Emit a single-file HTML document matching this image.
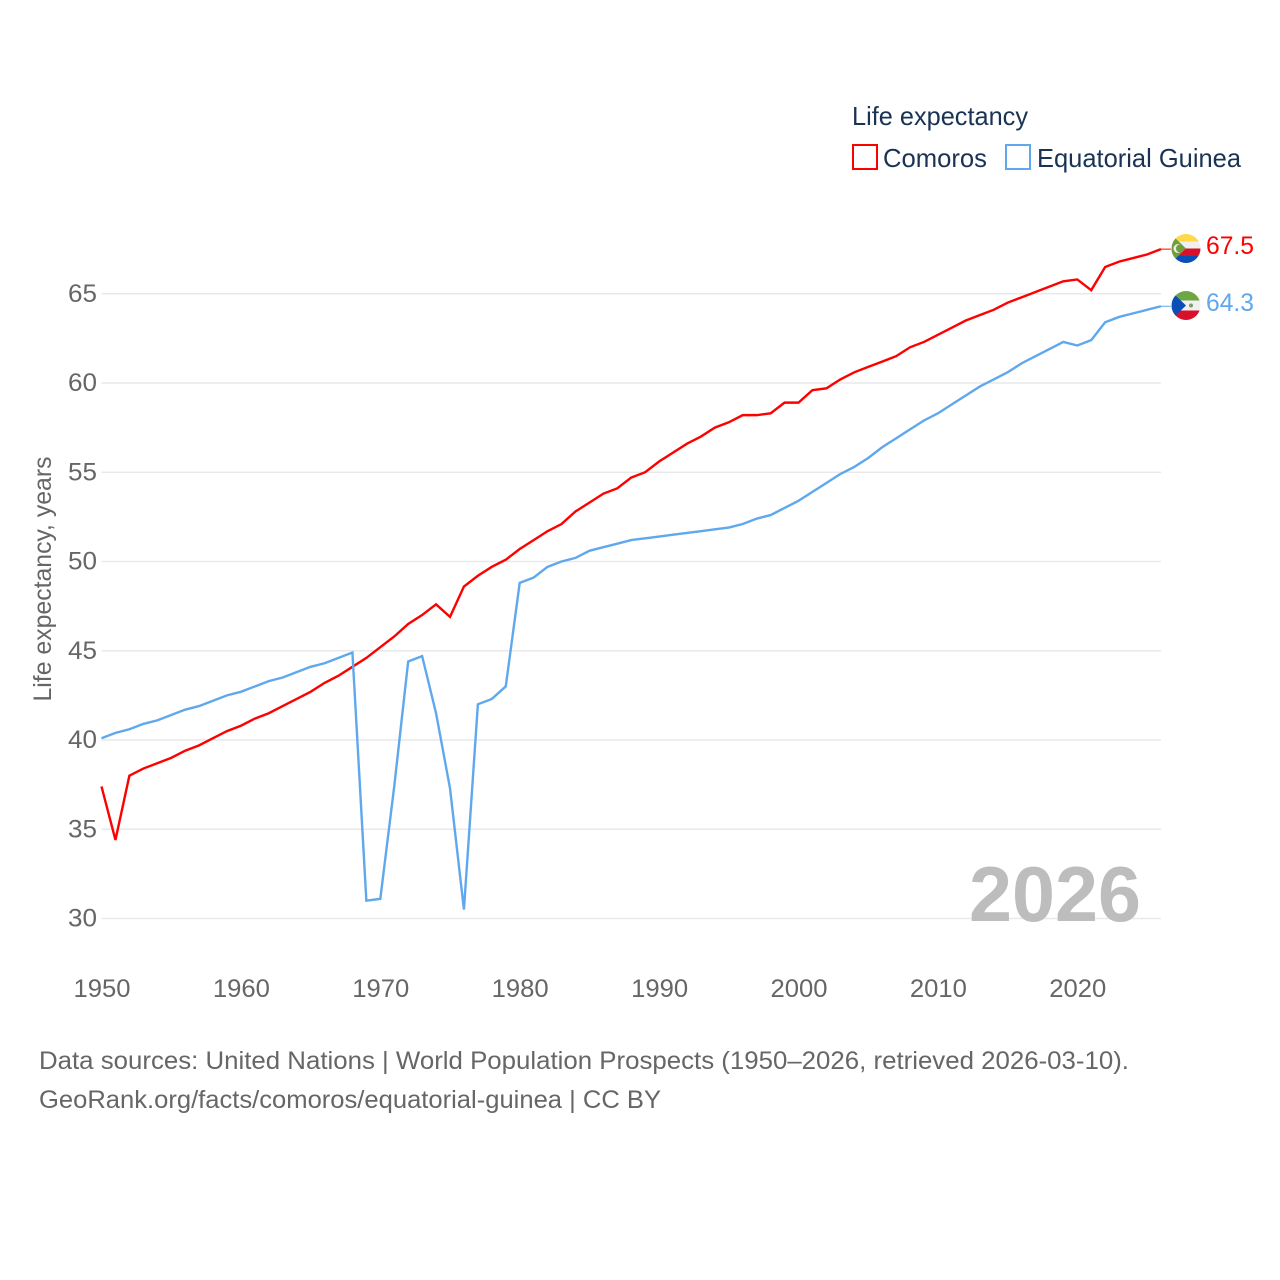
<!DOCTYPE html>
<html lang="en">
<head>
<meta charset="utf-8">
<title>Life expectancy: Comoros and Equatorial Guinea</title>
<style>
html,body{margin:0;padding:0;background:#fff;width:1280px;height:1280px;overflow:hidden}
svg{display:block}
text{font-family:"Liberation Sans",sans-serif}
</style>
</head>
<body>
<svg id="chart" width="1280" height="1280" viewBox="0 0 1280 1280" xmlns="http://www.w3.org/2000/svg">
  <defs>
    <clipPath id="flag-clip-km"><circle cx="1186" cy="248.500" r="14.500"/></clipPath>
    <clipPath id="flag-clip-gq"><circle cx="1186" cy="305.500" r="14.500"/></clipPath>
  </defs>
  <rect width="1280" height="1280" fill="#fff"/>

  <g>
    <text x="852" y="125" font-size="26" fill="#1a3354" textLength="176" lengthAdjust="spacingAndGlyphs">Life expectancy</text>
    <g>
      <rect x="853" y="145" width="24" height="24" fill="#fff" stroke="#ff0000" stroke-width="2"/>
      <text x="883" y="167" font-size="26" fill="#1a3354" textLength="104" lengthAdjust="spacingAndGlyphs">Comoros</text>
    </g>
    <g>
      <rect x="1006" y="145" width="24" height="24" fill="#fff" stroke="#5fa8ee" stroke-width="2"/>
      <text x="1037" y="167" font-size="26" fill="#1a3354" textLength="204" lengthAdjust="spacingAndGlyphs">Equatorial Guinea</text>
    </g>
  </g>

  <g id="grid"></g>
  <g id="y-ticks"></g>
  <g id="x-ticks"></g>

  <text transform="translate(51,579) rotate(-90)" text-anchor="middle" font-size="25" fill="#666" textLength="245" lengthAdjust="spacingAndGlyphs">Life expectancy, years</text>

  <text x="969" y="921" font-size="78" font-weight="bold" fill="#bdbdbd" textLength="172" lengthAdjust="spacingAndGlyphs">2026</text>

  <g id="series"></g>

  <g clip-path="url(#flag-clip-km)">
    <rect x="1171" y="234" width="30" height="8" fill="#ffd94a"/>
    <rect x="1171" y="241.500" width="30" height="7.500" fill="#f0f0f0"/>
    <rect x="1171" y="248.500" width="30" height="7.500" fill="#d8102c"/>
    <rect x="1171" y="256" width="30" height="8" fill="#0a4fb5"/>
    <polygon points="1170,233 1186,248.500 1170,264" fill="#6f9e3e"/>
    <circle cx="1178" cy="248.500" r="4.500" fill="#e8f0dc"/>
    <circle cx="1180" cy="248.500" r="4" fill="#6f9e3e"/>
  </g>
  <g clip-path="url(#flag-clip-gq)">
    <rect x="1171" y="291" width="30" height="10" fill="#6fa644"/>
    <rect x="1171" y="300.500" width="30" height="10" fill="#f0f0f0"/>
    <rect x="1171" y="310.500" width="30" height="10" fill="#d8102c"/>
    <polygon points="1170,290 1186,305.500 1170,321" fill="#0a4fb5"/>
    <circle cx="1191" cy="305.500" r="2" fill="#7d9a6a"/>
  </g>

  <text id="end-label-comoros" x="1206" y="254" font-size="25" fill="#ff0000" textLength="48" lengthAdjust="spacingAndGlyphs"></text>
  <text id="end-label-gq" x="1206" y="311" font-size="25" fill="#5fa8ee" textLength="48" lengthAdjust="spacingAndGlyphs"></text>

  <g>
    <text x="39" y="1069" font-size="25" fill="#666" textLength="1090" lengthAdjust="spacingAndGlyphs">Data sources: United Nations | World Population Prospects (1950–2026, retrieved 2026-03-10).</text>
    <text x="39" y="1108" font-size="25" fill="#666" textLength="622" lengthAdjust="spacingAndGlyphs">GeoRank.org/facts/comoros/equatorial-guinea | CC BY</text>
  </g>
</svg>
<script>
const startYear = 1950;
const xTickYears = [1950, 1960, 1970, 1980, 1990, 2000, 2010, 2020];
const yTickValues = [30, 35, 40, 45, 50, 55, 60, 65];
const comorosValues = [
  37.4, 34.4, 38.0, 38.4, 38.7, 39.0, 39.4, 39.7, 40.1, 40.5,
  40.8, 41.2, 41.5, 41.9, 42.3, 42.7, 43.2, 43.6, 44.1, 44.6,
  45.2, 45.8, 46.5, 47.0, 47.6, 46.9, 48.6, 49.2, 49.7, 50.1,
  50.7, 51.2, 51.7, 52.1, 52.8, 53.3, 53.8, 54.1, 54.7, 55.0,
  55.6, 56.1, 56.6, 57.0, 57.5, 57.8, 58.2, 58.2, 58.3, 58.9,
  58.9, 59.6, 59.7, 60.2, 60.6, 60.9, 61.2, 61.5, 62.0, 62.3,
  62.7, 63.1, 63.5, 63.8, 64.1, 64.5, 64.8, 65.1, 65.4, 65.7,
  65.8, 65.2, 66.5, 66.8, 67.0, 67.2, 67.5
];
const equatorialGuineaValues = [
  40.1, 40.4, 40.6, 40.9, 41.1, 41.4, 41.7, 41.9, 42.2, 42.5,
  42.7, 43.0, 43.3, 43.5, 43.8, 44.1, 44.3, 44.6, 44.9, 31.0,
  31.1, 37.4, 44.4, 44.7, 41.5, 37.3, 30.5, 42.0, 42.3, 43.0,
  48.8, 49.1, 49.7, 50.0, 50.2, 50.6, 50.8, 51.0, 51.2, 51.3,
  51.4, 51.5, 51.6, 51.7, 51.8, 51.9, 52.1, 52.4, 52.6, 53.0,
  53.4, 53.9, 54.4, 54.9, 55.3, 55.8, 56.4, 56.9, 57.4, 57.9,
  58.3, 58.8, 59.3, 59.8, 60.2, 60.6, 61.1, 61.5, 61.9, 62.3,
  62.1, 62.4, 63.4, 63.7, 63.9, 64.1, 64.3
];

const NS = 'http://www.w3.org/2000/svg';
function xScale(year) { return 101.5 + (year - 1950) * 13.94; }
function yScale(value) { return 918.5 - (value - 30) * 17.85; }

const gridGroup = document.getElementById('grid');
const yTickGroup = document.getElementById('y-ticks');
const xTickGroup = document.getElementById('x-ticks');
const seriesGroup = document.getElementById('series');

yTickValues.forEach(function (v) {
  const line = document.createElementNS(NS, 'line');
  
  
  line.setAttribute('x1', xScale(1950));
  line.setAttribute('x2', xScale(2026));
  line.setAttribute('y1', yScale(v));
  line.setAttribute('y2', yScale(v));
  line.setAttribute('stroke', '#e9e9e9');
  line.setAttribute('stroke-width', '1.5');
  gridGroup.appendChild(line);

  const label = document.createElementNS(NS, 'text');
  
  
  label.setAttribute('x', 68);
  label.setAttribute('y', yScale(v) + 8);
  label.setAttribute('font-size', '25');
  label.setAttribute('fill', '#666');
  label.setAttribute('textLength', '29');
  label.setAttribute('lengthAdjust', 'spacingAndGlyphs');
  label.textContent = v;
  yTickGroup.appendChild(label);
});

xTickYears.forEach(function (yr) {
  const label = document.createElementNS(NS, 'text');
  
  
  label.setAttribute('x', xScale(yr) - 28);
  label.setAttribute('y', 997);
  label.setAttribute('font-size', '25');
  label.setAttribute('fill', '#666');
  label.setAttribute('textLength', '57');
  label.setAttribute('lengthAdjust', 'spacingAndGlyphs');
  label.textContent = yr;
  xTickGroup.appendChild(label);
});

function pointsFor(values) {
  return values.map(function (v, i) {
    return xScale(startYear + i).toFixed(2) + ',' + yScale(v).toFixed(2);
  }).join(' ');
}

const comorosLine = document.createElementNS(NS, 'polyline');


comorosLine.setAttribute('points', pointsFor(comorosValues));
comorosLine.setAttribute('fill', 'none');
comorosLine.setAttribute('stroke', '#ff0000');
comorosLine.setAttribute('stroke-width', '2.4');
seriesGroup.appendChild(comorosLine);

const guineaLine = document.createElementNS(NS, 'polyline');


guineaLine.setAttribute('points', pointsFor(equatorialGuineaValues));
guineaLine.setAttribute('fill', 'none');
guineaLine.setAttribute('stroke', '#5fa8ee');
guineaLine.setAttribute('stroke-width', '2.4');
seriesGroup.appendChild(guineaLine);

const comorosLast = comorosValues[comorosValues.length - 1];
const guineaLast = equatorialGuineaValues[equatorialGuineaValues.length - 1];

const comorosLeader = document.createElementNS(NS, 'line');


comorosLeader.setAttribute('x1', xScale(2026));
comorosLeader.setAttribute('x2', xScale(2026) + 10);
comorosLeader.setAttribute('y1', yScale(comorosLast));
comorosLeader.setAttribute('y2', yScale(comorosLast));
comorosLeader.setAttribute('stroke', '#ff0000');
comorosLeader.setAttribute('stroke-width', '1');
seriesGroup.appendChild(comorosLeader);

const guineaLeader = document.createElementNS(NS, 'line');


guineaLeader.setAttribute('x1', xScale(2026));
guineaLeader.setAttribute('x2', xScale(2026) + 10);
guineaLeader.setAttribute('y1', yScale(guineaLast));
guineaLeader.setAttribute('y2', yScale(guineaLast));
guineaLeader.setAttribute('stroke', '#5fa8ee');
guineaLeader.setAttribute('stroke-width', '1');
seriesGroup.appendChild(guineaLeader);

document.getElementById('end-label-comoros').textContent = comorosLast.toFixed(1);
document.getElementById('end-label-gq').textContent = guineaLast.toFixed(1);
</script>
</body>
</html>
